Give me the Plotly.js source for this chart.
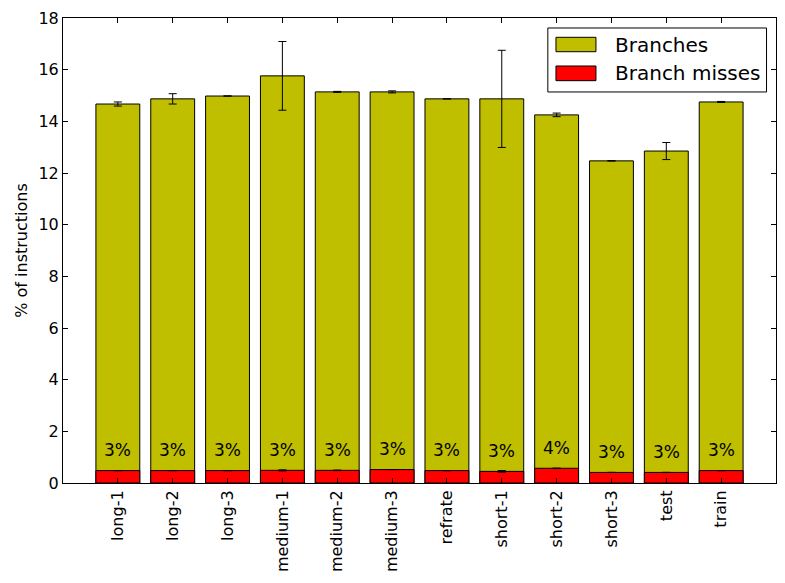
<!DOCTYPE html>
<html>
<head>
<meta charset="utf-8">
<script src="https://cdn.plot.ly/plotly-3.0.1.min.js"></script>
<style>html,body{margin:0;padding:0;background:#fff;}#chart{width:785px;height:583px;}</style>
</head>
<body>
<div id="chart"></div>
<script>
const categories = ["long-1","long-2","long-3","medium-1","medium-2","medium-3","refrate","short-1","short-2","short-3","test","train"];
const branches = [14.67,14.87,14.98,15.76,15.14,15.14,14.87,14.87,14.25,12.47,12.85,14.75];
const branchErr = [0.08,0.20,null,1.33,0.02,0.04,null,1.88,0.07,null,0.33,0.02];
const misses = [0.48,0.48,0.48,0.49,0.49,0.52,0.48,0.45,0.57,0.41,0.41,0.48];
const missErr = [null,null,null,0.02,0.01,null,null,0.03,null,null,null,null];
const seriesNames = ["Branches","Branch misses"];
const seriesColors = ["#bfbf00","#ff0000"];

const xs = categories.map((c,i)=>i);
const FONT = 'DejaVu Sans';

const traces = [
  {type:'bar', name:seriesNames[0], x:xs, y:branches, width:0.8, showlegend:false,
   marker:{color:seriesColors[0], line:{color:'#000', width:1}},
   error_y:{type:'data', array:branchErr, visible:true, color:'#000', thickness:1, width:4},
   hoverinfo:'skip'},
  {type:'bar', name:seriesNames[1], x:xs, y:misses, width:0.8, showlegend:false,
   marker:{color:seriesColors[1], line:{color:'#000', width:1}},
   error_y:{type:'data', array:missErr, visible:true, color:'#000', thickness:1, width:4},
   hoverinfo:'skip'}
];

const annotations = xs.map(i=>({
  x:i, y:misses[i]+0.8, xref:'x', yref:'y',
  text: Math.round(100*misses[i]/branches[i])+'%',
  showarrow:false, font:{family:FONT, size:17, color:'#000'},
  xanchor:'center', yanchor:'middle'
}));

// custom legend (matplotlib-like wide patches)
const legendBox = {x0:0.680, x1:0.9867, y0:0.8409, y1:0.9785};
const patchX = [0.6914, 0.7475];
const patchY = [[0.9275,0.9585],[0.8652,0.8968]];
const textY = [0.943, 0.8809];
const shapes = [
  {type:'rect', xref:'paper', yref:'paper', x0:legendBox.x0, x1:legendBox.x1, y0:legendBox.y0, y1:legendBox.y1,
   line:{color:'#000', width:1}, fillcolor:'#fff', layer:'above'}
];
seriesNames.forEach((n,k)=>{
  shapes.push({type:'rect', xref:'paper', yref:'paper', x0:patchX[0], x1:patchX[1], y0:patchY[k][0], y1:patchY[k][1],
    line:{color:'#000', width:1}, fillcolor:seriesColors[k], layer:'above'});
  annotations.push({xref:'paper', yref:'paper', x:0.7707, y:textY[k], text:n, showarrow:false,
    xanchor:'left', yanchor:'middle', font:{family:FONT, size:20, color:'#000'}});
});

const axisCommon = {
  showgrid:false, zeroline:false, showline:true, linecolor:'#000', linewidth:1,
  mirror:'allticks', ticks:'inside', ticklen:5, tickcolor:'#000', tickwidth:1,
  tickfont:{family:FONT, size:16, color:'#000'}
};

const layout = {
  width:785, height:583,
  margin:{l:63, r:9, t:18, b:100},
  paper_bgcolor:'#fff', plot_bgcolor:'#fff',
  barmode:'overlay',
  showlegend:false,
  xaxis: Object.assign({}, axisCommon, {
    range:[-1,12], tickmode:'array', tickvals:xs, ticktext:categories, tickangle:-90
  }),
  yaxis: Object.assign({}, axisCommon, {
    range:[0,18], tickmode:'array', tickvals:[0,2,4,6,8,10,12,14,16,18],
    title:{text:'% of instructions', font:{family:FONT, size:16, color:'#000'}, standoff:6}
  }),
  shapes: shapes,
  annotations: annotations
};

Plotly.newPlot('chart', traces, layout, {displayModeBar:false, staticPlot:true});
</script>
</body>
</html>
